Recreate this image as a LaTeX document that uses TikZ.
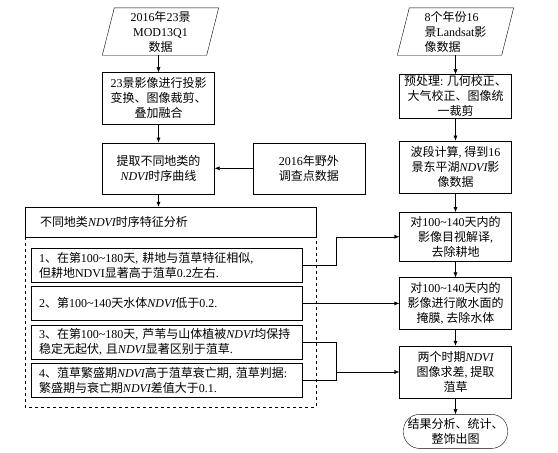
\documentclass[tikz,border=0pt]{standalone}
\usepackage{fontspec}
\setmainfont{Noto Sans CJK SC}
\newfontfamily\latinfont{Liberation Serif}
\newcommand{\en}[1]{{\latinfont #1}}
\newcommand{\ndvi}{{\latinfont\itshape NDVI}}
\newcommand{\tld}{\en{\textasciitilde}}
\usetikzlibrary{positioning,arrows.meta}
\tikzset{
>={Latex[length=5pt,width=4pt]},
line width=0.7pt,
font=\fontsize{12pt}{15pt}\selectfont,
}

\begin{document}
\begin{tikzpicture}
    [x=1pt, y=-1pt,
    node distance=17pt,
    block/.style={draw, rectangle, align=center, minimum width=112pt, minimum height=51pt, inner sep=1pt},
    data/.style={rectangle, minimum width=104pt, minimum height=47pt, inner sep=1pt, align=center},
    item/.style={draw, rectangle, text width=255pt, inner xsep=8pt, inner ysep=1pt, minimum height=34pt, align=left}
    ]
    \useasboundingbox (0,0) rectangle (558,453);

    % left column
    \node [data] (mod) at (160.5,31.5)
    {
        \en{2016}年\en{23}景\\ \en{MOD13Q1}\\ 数据
    };

    \node [block, minimum height=52pt, below=17pt of mod, xshift=-2pt] (proj)
    {
        \en{23}景影像进行投影\\ 变换、图像裁剪、\\ 叠加融合
    };

    \node [block, below=18pt of proj] (curve)
    {
        提取不同地类的\\ \ndvi 时序曲线
    };

    \node [block, right=38pt of curve] (field)
    {
        \en{2016}年野外\\ 调查点数据
    };

    \node [draw, text width=261pt, inner xsep=15pt, minimum height=30pt, align=left] (title) at (170.5,222)
    {
        不同地类\ndvi 时序特征分析
    };

    \node [item] (it1) at (166.5,265)
    {
        \en{1}、在第\en{100\tld180}天\en{,} 耕地与菹草特征相似\en{,}\\
        但耕地\en{NDVI}显著高于菹草\en{0.2}左右\en{.}
    };

    \node [item, below=4pt of it1] (it2)
    {
        \en{2}、第\en{100\tld140}天水体\ndvi 低于\en{0.2.}
    };

    \node [item, below=4pt of it2] (it3)
    {
        \en{3}、在第\en{100\tld180}天\en{,} 芦苇与山体植被\ndvi 均保持\\
        稳定无起伏\en{,} 且\ndvi 显著区别于菹草\en{.}
    };

    \node [item, below=4pt of it3] (it4)
    {
        \en{4}、菹草繁盛期\ndvi 高于菹草衰亡期\en{,} 菹草判据\en{:}\\
        繁盛期与衰亡期\ndvi 差值大于\en{0.1.}
    };

    \draw [dashed] (title.north west) rectangle ++(291pt,-200pt);

    % right column
    \node [data, align=left] (tm) at (455.5,31.5)
    {
        \en{8}个年份\en{16}\\ 景\en{Landsat}影\\ 像数据
    };

    \node [block, minimum height=44pt, below=19pt of tm] (pre)
    {
        预处理\en{:} 几何校正、\\ 大气校正、图像统\\ 一裁剪
    };

    \node [block, minimum height=52pt, below=22pt of pre] (band)
    {
        波段计算\en{,} 得到\en{16}\\ 景东平湖\ndvi 影\\ 像数据
    };

    \node [block, minimum height=49pt, below=19pt of band] (rm1)
    {
        对\en{100\tld140}天内的\\ 影像目视解译\en{,}\\ 去除耕地
    };

    \node [block, minimum height=52pt, below=16pt of rm1] (rm2)
    {
        对\en{100\tld140}天内的\\ 影像进行敞水面的\\ 掩膜\en{,} 去除水体
    };

    \node [block, minimum height=52pt, below=16pt of rm2] (diff)
    {
        两个时期\ndvi\\ 图像求差\en{,} 提取\\ 菹草
    };

    \node [draw, rounded corners=16pt, align=center, minimum width=104pt, minimum height=34pt,
        inner sep=1pt, below=16pt of diff] (res)
    {
        结果分析、统计、\\ 整饰出图
    };

    % data parallelograms
    \draw ([xshift=6pt]mod.north west) -- ([xshift=6pt]mod.north east)
        -- ([xshift=-6pt]mod.south east) -- ([xshift=-6pt]mod.south west) -- cycle;
    \draw ([xshift=6pt]tm.north west) -- ([xshift=6pt]tm.north east)
        -- ([xshift=-6pt]tm.south east) -- ([xshift=-6pt]tm.south west) -- cycle;

    \coordinate (jn) at ([xshift=34pt]it4.east);

    \draw[->] (proj.north |- mod.south) -- (proj);
    \draw[->] (proj) -- (curve);
    \draw[->] (curve) -- (curve.south |- title.north);
    \draw[->] (field) -- (curve);
    \draw[->] (tm) -- (pre);
    \draw[->] (pre) -- (band);
    \draw[->] (band) -- (rm1);
    \draw[->] (rm1) -- (rm2);
    \draw[->] (rm2) -- (diff);
    \draw[->] (diff) -- (res);
    \draw[->] (it1.east) -- ++(34pt,0pt) |- (rm1.west);
    \draw[->] (it2.east) -- (it2.east -| rm2.west);
    \draw (it3.east) -| (jn) -- (it4.east);
    \draw[->] (jn |- diff.west) -- (diff.west);

\end{tikzpicture}
\end{document}
